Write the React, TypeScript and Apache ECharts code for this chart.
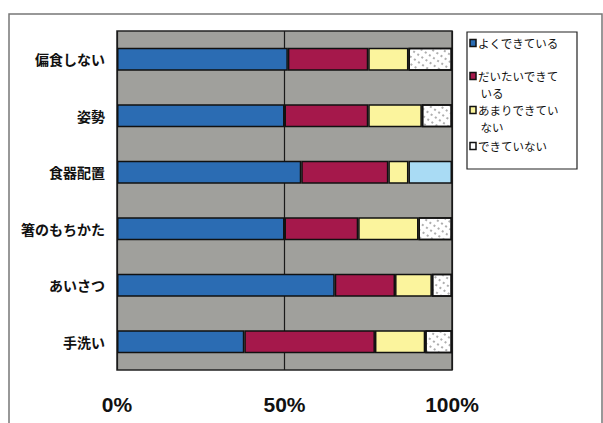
import React, { useEffect, useRef } from "react";
import * as echarts from "echarts";

// Survey categories (top to bottom)
const categories = ["偏食しない", "姿勢", "食器配置", "箸のもちかた", "あいさつ", "手洗い"];

// Share of answers per category, in percent
const seriesNames = ["よくできている", "だいたいできている", "あまりできていない", "できていない"];
const goodValues = [51, 50, 55, 50, 65, 38];
const mostlyValues = [24, 25, 26, 22, 18, 39];
const notMuchValues = [12, 16, 6, 18, 11, 15];
const notAtAllValues = [13, 9, 13, 10, 6, 8];

// Legend text, wrapped as in the boxed legend
const legendLines = ["よくできている", "だいたいできて\n いる", "あまりできてい\n ない", "できていない"];

const xTicks = [0, 50, 100];

const COLORS = ["#2b6cb3", "#a5184b", "#fbf49d", "#ffffff"];
const ALT_FOURTH = "#a9dbf4";

export default function App() {
  const ref = useRef<HTMLDivElement>(null);

  useEffect(() => {
    document.body.style.margin = "0";
    if (!ref.current) return;
    const chart = echarts.init(ref.current, undefined, { renderer: "svg" });

    const jp = "'Noto Sans CJK JP', 'Noto Sans', sans-serif";
    const speckle = {
      symbol: "rect",
      symbolSize: 0.9,
      color: "rgba(90,90,90,0.55)",
      dashArrayX: [2, 3],
      dashArrayY: [2, 4],
      rotation: 0.6,
    };

    const valueSets = [goodValues, mostlyValues, notMuchValues, notAtAllValues];

    const series = valueSets.map((vals, i) => ({
      name: seriesNames[i],
      type: "bar",
      stack: "total",
      barWidth: 23,
      data: vals.map((v, j) => {
        if (i === 3 && categories[j] === "食器配置") {
          return { value: v, itemStyle: { color: ALT_FOURTH, decal: "none" } };
        }
        return v;
      }),
      itemStyle: {
        color: COLORS[i],
        borderColor: "#111",
        borderWidth: 1.5,
        ...(i === 3 ? { decal: speckle } : {}),
      },
    }));

    // Boxed legend on the right
    const legendX = 467;
    const legendY = 32;
    const lineH = 17;
    const itemTops = [43, 76, 110, 146];
    const legendGraphics: any[] = [
      {
        type: "rect",
        shape: { x: legendX, y: legendY, width: 110, height: 137 },
        style: { fill: "#fff", stroke: "#222", lineWidth: 1.2 },
        z: 10,
      },
    ];
    legendLines.forEach((t, i) => {
      legendGraphics.push({
        type: "rect",
        shape: { x: legendX + 3, y: itemTops[i] - 3.5, width: 6, height: 7 },
        style: { fill: COLORS[i], stroke: "#111", lineWidth: 1.5 },
        z: 11,
      });
      legendGraphics.push({
        type: "text",
        x: legendX + 11,
        y: itemTops[i] - lineH / 2,
        style: {
          text: t,
          font: `11.5px ${jp}`,
          lineHeight: lineH,
          fill: "#111",
          textVerticalAlign: "top",
          textAlign: "left",
        },
        z: 11,
      });
    });

    chart.setOption({
      animation: false,
      backgroundColor: "#fff",
      grid: {
        left: 117,
        top: 31,
        width: 335,
        height: 339,
        show: true,
        backgroundColor: "#a0a09c",
        borderColor: "#222",
        borderWidth: 1.5,
      },
      xAxis: {
        type: "value",
        min: 0,
        max: 100,
        interval: 50,
        axisLine: { show: false },
        axisTick: { show: false },
        splitLine: { show: true, lineStyle: { color: "#1a1a1a", width: 1.2 } },
        axisLabel: {
          margin: 24,
          fontSize: 21,
          fontWeight: "bold",
          color: "#111",
          fontFamily: "'Liberation Sans Narrow', 'Arial Narrow', 'Liberation Sans', sans-serif",
          formatter: (v: number) => (xTicks.includes(v) ? `${v}%` : ""),
        },
      },
      yAxis: {
        type: "category",
        data: categories,
        inverse: true,
        axisLine: { show: false },
        axisTick: { show: false },
        axisLabel: {
          margin: 12,
          fontSize: 14,
          fontWeight: "bold",
          color: "#111",
          fontFamily: jp,
        },
      },
      series,
      graphic: [
        {
          type: "rect",
          shape: { x: 9, y: 14, width: 593, height: 420 },
          style: { fill: "none", stroke: "#777", lineWidth: 1.5 },
          silent: true,
        },
        ...legendGraphics,
      ],
    });

    return () => chart.dispose();
  }, []);

  return <div ref={ref} style={{ width: 603, height: 423 }} />;
}
